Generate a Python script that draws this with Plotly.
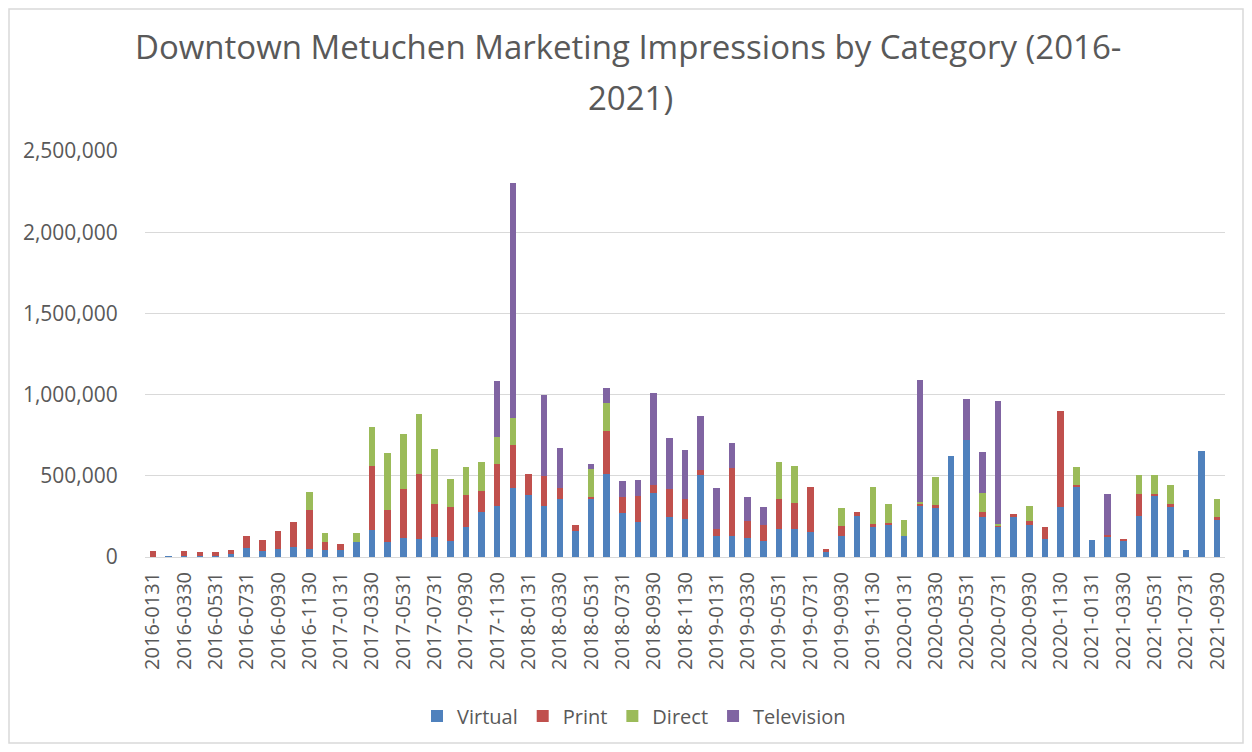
import plotly.graph_objects as go

months = []
for y in range(2016, 2022):
    feb = "0229" if y == 2016 else "0228"
    seq = ["0131", feb, "0330", "0430", "0531", "0630", "0731", "0831", "0930", "1031", "1130", "1231"]
    for m in seq:
        months.append(f"{y}-{m}")
categories = months[:69]
tick_labels = categories[::2]

virtual = [0, 5000, 5000, 6000, 8000, 18000, 58000, 37000, 50000, 62000, 50000, 45000,
           45000, 93000, 167000, 93000, 120000, 110000, 126000, 97000, 184000, 275000, 316000, 426000,
           380000, 312000, 355000, 159000, 355000, 514000, 271000, 217000, 393000, 248000, 236000, 506000,
           132000, 128000, 118000, 99000, 174000, 170000, 157000, 33000, 128000, 252000, 186000, 194000,
           130000, 320000, 304000, 622000, 721000, 244000, 186000, 248000, 200000, 112000, 310000, 432000,
           107000, 122000, 97000, 252000, 376000, 308000, 45000, 655000, 225000]
print_ = [35000, 0, 33000, 27000, 25000, 25000, 70000, 68000, 109000, 155000, 241000, 46000,
          38000, 0, 391000, 198000, 299000, 402000, 201000, 213000, 196000, 134000, 254000, 262000,
          132000, 184000, 67000, 41000, 17000, 261000, 99000, 159000, 53000, 172000, 121000, 31000,
          38000, 420000, 101000, 97000, 181000, 165000, 277000, 19000, 64000, 25000, 19000, 15000,
          0, 12000, 16000, 0, 0, 33000, 10000, 14000, 21000, 72000, 591000, 10000,
          0, 14000, 13000, 138000, 14000, 18000, 0, 0, 21000]
direct = [0, 0, 0, 0, 0, 0, 0, 0, 0, 0, 112000, 54000,
          0, 56000, 242000, 352000, 341000, 366000, 337000, 171000, 172000, 174000, 172000, 169000,
          0, 0, 0, 0, 171000, 175000, 0, 0, 0, 0, 0, 0,
          0, 0, 0, 0, 228000, 225000, 0, 0, 112000, 0, 227000, 115000,
          99000, 8000, 174000, 0, 0, 116000, 6000, 0, 95000, 0, 0, 114000,
          0, 0, 0, 114000, 112000, 116000, 0, 0, 111000]
television = [0, 0, 0, 0, 0, 0, 0, 0, 0, 0, 0, 0,
              0, 0, 0, 0, 0, 0, 0, 0, 0, 0, 343000, 1443000,
              0, 500000, 252000, 0, 29000, 89000, 97000, 99000, 566000, 313000, 302000, 333000,
              252000, 155000, 153000, 110000, 0, 0, 0, 0, 0, 0, 0, 0,
              0, 748000, 0, 0, 250000, 252000, 756000, 0, 0, 0, 0, 0,
              0, 252000, 0, 0, 0, 0, 0, 0, 0]

series = [("Virtual", virtual, "#4f81bd"), ("Print", print_, "#c0504d"),
          ("Direct", direct, "#9bbb59"), ("Television", television, "#8064a2")]

fig = go.Figure()
for name, vals, col in series:
    fig.add_trace(go.Bar(x=categories, y=vals, name=name, marker=dict(color=col, line=dict(width=0))))

# page body has an 8px margin; sizes compensate so the plot lands where the reference has it
W, H = 1236, 736
L, T = 137, 143
pw, ph = 1080, 406
R = W - L - pw
B = H - T - ph
PL, PT = 145, 151  # plot-area left/top in page pixels

def px(xp):
    return (xp - PL) / pw

def py(yp):
    return 1 + (PT - yp) / ph

fig.update_layout(
    width=W, height=H, barmode="stack", bargap=0.58,
    paper_bgcolor="white", plot_bgcolor="white",
    margin=dict(l=L, r=R, t=T, b=B, autoexpand=False),
    font=dict(family="Open Sans", color="#595959"),
    xaxis=dict(type="category", tickmode="array", tickvals=tick_labels, ticktext=tick_labels,
               tickangle=-90, tickfont=dict(size=20, color="#595959"), showgrid=False,
               showline=True, linecolor="#d9d9d9", linewidth=1, ticks="outside", ticklen=6,
               tickcolor="rgba(0,0,0,0)"),
    yaxis=dict(range=[0, 2500000], dtick=500000, tickformat=",d", showgrid=True,
               gridcolor="#d9d9d9", gridwidth=1, zeroline=False, showline=False,
               tickfont=dict(size=21, color="#595959"), ticks="outside", ticklen=22,
               tickcolor="rgba(0,0,0,0)"),
    legend=dict(orientation="h", x=px(634), xanchor="center", y=py(716), yanchor="middle",
                font=dict(size=20, color="#595959"), traceorder="normal"),
    showlegend=True,
)
fig.add_annotation(text="Downtown Metuchen Marketing Impressions by Category (2016-",
                   xref="paper", yref="paper", x=px(628), y=py(47), xanchor="center", yanchor="middle",
                   showarrow=False, font=dict(size=33, color="#595959", family="Open Sans"))
fig.add_annotation(text="2021)",
                   xref="paper", yref="paper", x=px(630), y=py(97), xanchor="center", yanchor="middle",
                   showarrow=False, font=dict(size=33, color="#595959", family="Open Sans"))
fig.add_shape(type="rect", xref="paper", yref="paper",
              x0=(-L + 1) / pw, x1=1 + (R - 1) / pw, y0=(-B + 1) / ph, y1=1 + (T - 1) / ph,
              line=dict(color="#d9d9d9", width=1.5), fillcolor="rgba(0,0,0,0)", layer="below")
fig.write_html("out.html")
